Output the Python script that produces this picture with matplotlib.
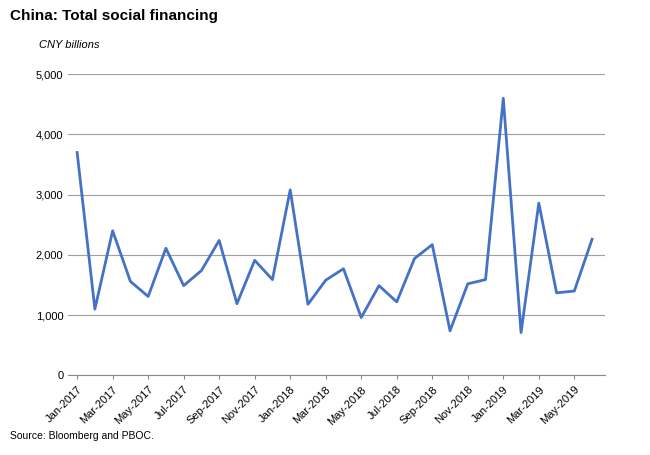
import matplotlib
matplotlib.use("Agg")
import matplotlib.pyplot as plt
import pandas as pd

plt.rcParams["font.family"] = "Liberation Sans"

months = pd.date_range("2017-01-01", "2019-06-01", freq="MS")
values = [3700, 1100, 2400, 1560, 1310, 2110, 1490, 1740, 2240, 1190, 1910, 1590,
          3080, 1180, 1580, 1770, 960, 1490, 1220, 1940, 2170, 740, 1520, 1590,
          4600, 710, 2860, 1370, 1400, 2260]
labels = [m.strftime("%b-%Y") for m in months]

fig = plt.figure(figsize=(6.5, 4.55), dpi=100)
ax = fig.add_axes([0.105, 0.175, 0.825, 0.662])
x = list(range(len(values)))
ax.plot(x, values, color="#4472C4", lw=2)
ax.set_ylim(0, 5000)
ax.set_xlim(-0.5, len(values) - 0.3)
ax.set_yticks(range(0, 5001, 1000))
ax.set_yticklabels([f"{v:,}" for v in range(0, 5001, 1000)], fontsize=8)
ax.set_xticks(x[::2])
ax.set_xticklabels(labels[::2], rotation=45, ha="right", rotation_mode="anchor", fontsize=8)
ax.grid(axis="y", color="#A0A0A0", lw=0.8)
ax.set_axisbelow(True)
for s in ["top", "right", "left"]:
    ax.spines[s].set_visible(False)
ax.spines["bottom"].set_color("#888888")
ax.tick_params(axis="y", length=0)
ax.tick_params(axis="x", length=3, color="#888888")

fig.text(0.015, 0.955, "China: Total social financing", fontsize=11, fontweight="bold")
fig.text(0.06, 0.895, "CNY billions", fontsize=8, style="italic")
fig.text(0.015, 0.035, "Source: Bloomberg and PBOC.", fontsize=7.5)
fig.savefig("out.png")
